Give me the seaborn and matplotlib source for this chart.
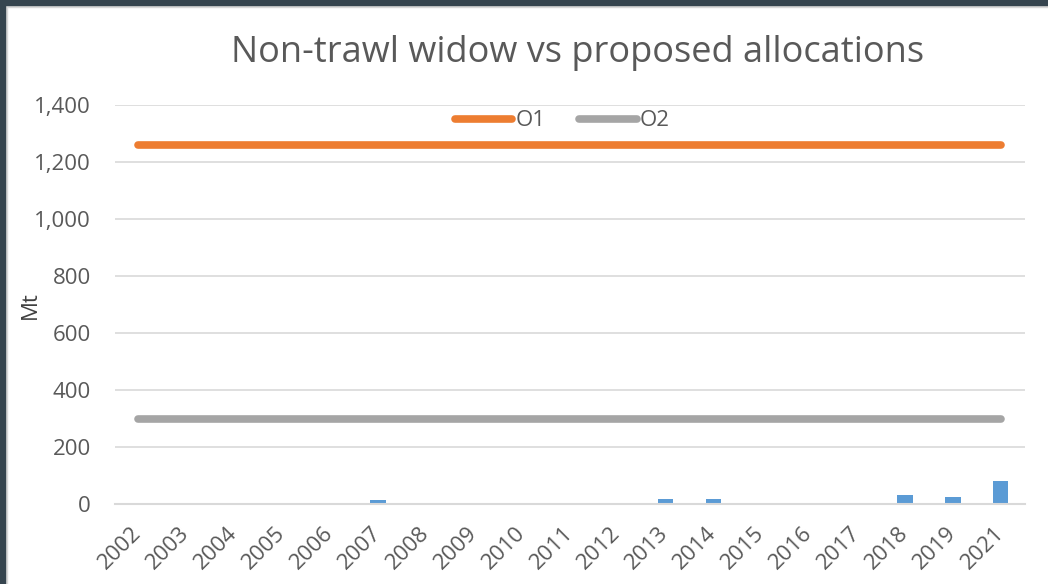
import matplotlib
matplotlib.use("Agg")
import matplotlib.pyplot as plt
from matplotlib.patches import Rectangle
import seaborn as sns
import pandas as pd
import numpy as np

years = ["2002", "2003", "2004", "2005", "2006", "2007", "2008", "2009", "2010",
         "2011", "2012", "2013", "2014", "2015", "2016", "2017", "2018", "2019", "2021"]
catch = [0, 0, 0, 0, 0, 11, 0, 0, 0, 0, 0, 17, 17, 0, 0, 0, 29, 23, 80]
o1 = [1258, 1258, 1258, 1258, 1258, 1258, 1258, 1258, 1258, 1258,
      1258, 1258, 1258, 1258, 1258, 1258, 1258, 1258, 1258]
o2 = [296, 296, 296, 296, 296, 296, 296, 296, 296, 296,
      296, 296, 296, 296, 296, 296, 296, 296, 296]
y_ticks = [0, 200, 400, 600, 800, 1000, 1200, 1400]

sns.set_theme(style="white")
plt.rcParams["font.family"] = ["Open Sans", "DejaVu Sans"]

TXT = "#595959"
W, H = 1048, 584
fig = plt.figure(figsize=(W / 100, H / 100), dpi=100)
ax = fig.add_axes([114.5 / W, (H - 503.5) / H, (1024.7 - 114.5) / W, (503.5 - 105) / H])

df = pd.DataFrame({"year": years, "catch": catch, "O1": o1, "O2": o2})
df["pos"] = np.arange(len(df))

sns.barplot(data=df, x="year", y="catch", color="#5B9BD5", width=0.32,
            saturation=1, edgecolor="none", ax=ax)
sns.lineplot(data=df, x="pos", y="O1", color="#ED7D31", linewidth=5.5,
             solid_capstyle="round", ax=ax, label="O1")
sns.lineplot(data=df, x="pos", y="O2", color="#A5A5A5", linewidth=5.5,
             solid_capstyle="round", ax=ax, label="O2")

ax.set_xlim(-0.5, len(years) - 0.5)
ax.set_ylim(0, 1400)
ax.set_yticks(y_ticks)
ax.set_yticklabels([f"{v:,}" for v in y_ticks])
ax.set_xticks(np.arange(len(years)))
ax.set_xticklabels(years)
ax.yaxis.grid(True, color="#D9D9D9", linewidth=1.2)
ax.set_axisbelow(True)
for s in ["top", "right", "left"]:
    ax.spines[s].set_visible(False)
ax.spines["bottom"].set_color("#D9D9D9")
ax.spines["bottom"].set_linewidth(1.5)
ax.tick_params(axis="y", length=0, pad=17, labelsize=16, labelcolor=TXT)
ax.tick_params(axis="x", length=0, pad=19, labelsize=16, labelcolor=TXT)
for lbl in ax.get_xticklabels():
    lbl.set_rotation(45)
    lbl.set_ha("right")
    lbl.set_va("center")
    lbl.set_rotation_mode("anchor")
ax.set_xlabel("")
ax.set_ylabel("")

leg = ax.legend(loc="center", bbox_to_anchor=(0.492, 0.96), ncol=2, frameon=False,
                fontsize=16, handlelength=2.6, handletextpad=0.15, columnspacing=1.5,
                labelcolor=TXT)

fig.text(577.5 / W, (H - 62) / H, "Non-trawl widow vs proposed allocations",
         ha="center", va="baseline", fontsize=26, color=TXT)
fig.text(30 / W, (H - 305) / H, "Mt", rotation=90, ha="center", va="center",
         fontsize=16, color="#404040")

# dark frame on top and left
fig.add_artist(Rectangle((0, 1 - 5 / H), 1, 5 / H, transform=fig.transFigure,
                         color="#36454F", zorder=10))
fig.add_artist(Rectangle((0, 0), 5 / W, 1, transform=fig.transFigure,
                         color="#36454F", zorder=10))
fig.add_artist(Rectangle((5 / W, 1 - 6.5 / H), 1, 1.5 / H, transform=fig.transFigure,
                         color="#D9D9D9", zorder=9))
fig.add_artist(Rectangle((5 / W, 0), 1.5 / W, 1 - 5 / H, transform=fig.transFigure,
                         color="#D9D9D9", zorder=9))

fig.savefig("out.png", dpi=100)
